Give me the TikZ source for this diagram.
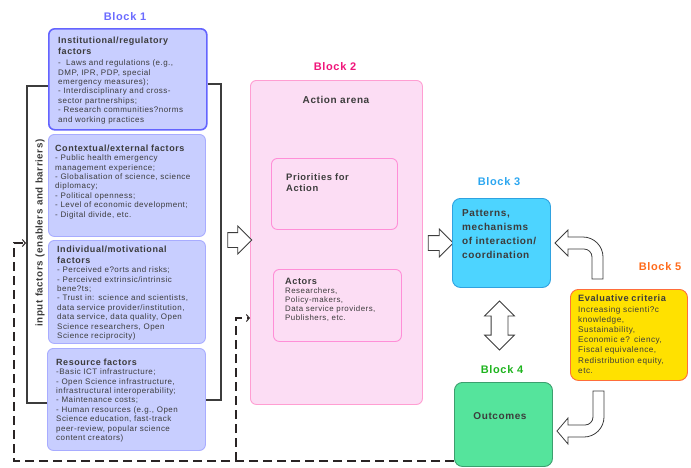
\documentclass[tikz,border=0pt]{standalone}
\usepackage{fontspec}
\setmainfont{Liberation Sans}
\newfontfamily\trackfont[LetterSpace=6]{Liberation Sans}
\usetikzlibrary{positioning, shapes.arrows, arrows.meta}

\definecolor{txtgray}{HTML}{3C3C3C}
\definecolor{blockone}{HTML}{6B6BFF}
\definecolor{factorfill}{HTML}{C8CEFF}
\definecolor{factorline}{HTML}{A8ACFF}
\definecolor{instline}{HTML}{6464FF}
\definecolor{blocktwo}{HTML}{F0157A}
\definecolor{arenafill}{HTML}{FCDDF4}
\definecolor{arenaline}{HTML}{FF9ED2}
\definecolor{blockthree}{HTML}{2BA6F0}
\definecolor{patternfill}{HTML}{4DD4FF}
\definecolor{patternline}{HTML}{2FA2E0}
\definecolor{blockfour}{HTML}{1EB41E}
\definecolor{outcomefill}{HTML}{55E49C}
\definecolor{outcomeline}{HTML}{3C9F6E}
\definecolor{blockfive}{HTML}{FF6A1A}
\definecolor{criteriafill}{HTML}{FFE100}
\definecolor{criterialine}{HTML}{FF6D3A}
\definecolor{dashgray}{HTML}{2A2424}

\newcommand{\bodysize}{\trackfont\fontsize{8}{9.4}\selectfont}
\newcommand{\titlesize}{\trackfont\fontsize{9}{11}\selectfont\bfseries}

\begin{document}
\begin{tikzpicture}[x=1pt, y=-1pt, text=txtgray,
    blocklabel/.style={font=\trackfont\fontsize{11}{12}\selectfont\bfseries},
    factorbox/.style={draw=factorline, fill=factorfill, line width=0.9pt, rounded corners=6pt, anchor=north west, inner sep=0pt},
    factortext/.style={anchor=north west, inner sep=0pt, align=left, text width=152pt, font=\bodysize},
    arenabox/.style={draw=arenaline, fill=arenafill, line width=0.9pt, rounded corners=6pt, anchor=north west, inner sep=0pt},
    hollow/.style={draw=txtgray, fill=white, line width=0.8pt},
    bracket/.style={draw=txtgray, line width=1.1pt},
    feedback/.style={draw=dashgray, line width=1.8pt, dash pattern=on 9pt off 5pt},
    feedtip/.style={-{Straight Barb[length=3pt, width=7pt, line width=1pt]}}]

\useasboundingbox (0,0) rectangle (691,467);

% block 1
\node[blocklabel, text=blockone] (b1) at (125,17) {Block 1};
\node[factorbox, draw=instline, line width=1.6pt, minimum width=158pt, minimum height=101pt] (inst) at (48,28) {};
\node[factorbox, minimum width=157pt, minimum height=102pt] (ctx) at (48,134) {};
\node[factorbox, minimum width=157pt, minimum height=103pt] (indiv) at (48,240) {};
\node[factorbox, minimum width=158pt, minimum height=102pt] (res) at (47,348) {};

\node[factortext] (insttext) at ([shift={(10,8.5)}]inst.north west) {%
  {\titlesize Institutional/regulatory\\factors\par}
  \vspace{2pt}
  -\ \ Laws and regulations (e.g.,\\
  DMP, IPR, PDP, special\\
  emergency measures);\\
  - Interdisciplinary and cross-\\
  sector partnerships;\\
  - Research communities?norms\\
  and working practices};
\node[factortext] (ctxtext) at ([shift={(7,10.5)}]ctx.north west) {%
  {\titlesize Contextual/external factors\par}
  - Public health emergency\\
  management experience;\\
  - Globalisation of science, science\\
  diplomacy;\\
  - Political openness;\\
  - Level of economic development;\\
  - Digital divide, etc.};
\node[factortext] (indivtext) at ([shift={(9,5.5)}]indiv.north west) {%
  {\titlesize Individual/motivational\\factors\par}
  - Perceived e?orts and risks;\\
  - Perceived extrinsic/intrinsic\\
  bene?ts;\\
  - Trust in: science and scientists,\\
  data service provider/institution,\\
  data service, data quality, Open\\
  Science researchers, Open\\
  Science reciprocity)};
\node[factortext] (restext) at ([shift={(9,10.5)}]res.north west) {%
  {\titlesize Resource factors\par}
  -Basic ICT infrastructure;\\
  - Open Science infrastructure,\\
  infrastructural interoperability;\\
  - Maintenance costs;\\
  - Human resources (e.g., Open\\
  Science education, fast-track\\
  peer-review, popular science\\
  content creators)};

\node[rotate=90, font=\trackfont\fontsize{9.8}{11}\selectfont\bfseries] (inputs) at (40,233) {input factors (enablers and barriers)};

\draw[bracket] (inst.west |- 0,86) -- (27,86) -- (27,403) -- (res.west |- 0,403);
\draw[bracket] (inst.east |- 0,84) -- (221,84) -- (221,400) -- (res.east |- 0,400);

% block 2
\node[blocklabel, text=blocktwo] (b2) at (335,67) {Block 2};
\node[arenabox, minimum width=172pt, minimum height=324pt] (arena) at (250,80) {};
\node[font=\trackfont\fontsize{10}{12}\selectfont\bfseries] (arenatitle) at (336,100) {Action arena};
\node[arenabox, draw=arenaline!90!magenta, minimum width=126pt, minimum height=71pt] (prio) at (271,158) {};
\node[anchor=north west, inner sep=0pt, align=left, font=\trackfont\fontsize{9.4}{11.7}\selectfont\bfseries] (priotext) at (286,173) {Priorities for\\Action};
\node[arenabox, draw=arenaline!90!magenta, minimum width=128pt, minimum height=72pt] (actors) at (273,269) {};
\node[anchor=north west, inner sep=0pt, align=left, text width=110pt, font=\trackfont\fontsize{7.9}{9}\selectfont] (actorstext) at (285,278) {%
  {\trackfont\fontsize{9.2}{10}\selectfont\bfseries Actors\par}
  Researchers,\\Policy-makers,\\Data service providers,\\Publishers, etc.};

\node[single arrow, hollow, inner sep=7pt, minimum height=24pt, single arrow head extend=6.5pt] (arrowone) at (236,240) {};
\node[single arrow, hollow, inner sep=7pt, minimum height=25pt, single arrow head extend=6.5pt] (arrowtwo) at (437,243) {};

% block 3
\node[blocklabel, text=blockthree] (b3) at (499,182) {Block 3};
\node[draw=patternline, fill=patternfill, line width=0.9pt, rounded corners=8pt, anchor=north west, inner sep=0pt, minimum width=98pt, minimum height=89pt] (pattern) at (452,198) {};
\node[anchor=north west, inner sep=0pt, align=left, font=\trackfont\fontsize{10}{14.3}\selectfont\bfseries] (patterntext) at (462,209) {Patterns,\\mechanisms\\of interaction/\\coordination};

\node[double arrow, hollow, inner sep=8pt, shape border rotate=90, minimum height=49pt, double arrow head extend=6.5pt] (arrowboth) at (499.5,325.5) {};

% block 4
\node[blocklabel, text=blockfour] (b4) at (502,370) {Block 4};
\node[draw=outcomeline, fill=outcomefill, line width=0.9pt, rounded corners=8pt, anchor=north west, inner sep=0pt, minimum width=98pt, minimum height=84pt] (outcome) at (454,382) {};
\node[font=\trackfont\fontsize{10}{12}\selectfont\bfseries] (outcometext) at (500,416) {Outcomes};

% block 5
\node[blocklabel, text=blockfive] (b5) at (660,267) {Block 5};
\node[draw=criterialine, fill=criteriafill, line width=0.9pt, rounded corners=8pt, anchor=north west, inner sep=0pt, minimum width=117pt, minimum height=91pt] (criteria) at (570,289) {};
\node[anchor=north west, inner sep=0pt, align=left, text width=110pt, font=\trackfont\fontsize{8.2}{10.2}\selectfont] (criteriatext) at (578,295) {%
  {\trackfont\fontsize{9.2}{10.5}\selectfont\bfseries Evaluative criteria\par}
  Increasing scienti?c\\knowledge,\\Sustainability,\\Economic e? ciency,\\Fiscal equivalence,\\Redistribution equity,\\etc.};

% feedback arrows from block 5
\draw[hollow] (592,279) -- (603,279) -- (603,257) .. controls (603,246) and (594,237) .. (583,237)
  -- (568,237) -- (568,230) -- (555,243) -- (568,256) -- (568,249) -- (584,249)
  .. controls (588.4,249) and (592,252.6) .. (592,257) -- cycle;
\draw[hollow] (593,391) -- (604,391) -- (604,417) .. controls (604,428) and (595,437) .. (584,437)
  -- (568,437) -- (568,444) -- (557,431) -- (568,418) -- (568,425) -- (585,425)
  .. controls (589.4,425) and (593,421.4) .. (593,417) -- cycle;

% dashed feedback
\coordinate (split) at (236,461);
\coordinate (inlet) at (26,243);
\draw[feedback, feedtip] (outcome.west |- split) -| (14,243) -- (inlet);
\draw[feedback, feedtip] (split) |- (arena.west |- 0,318);

\end{tikzpicture}
\end{document}
